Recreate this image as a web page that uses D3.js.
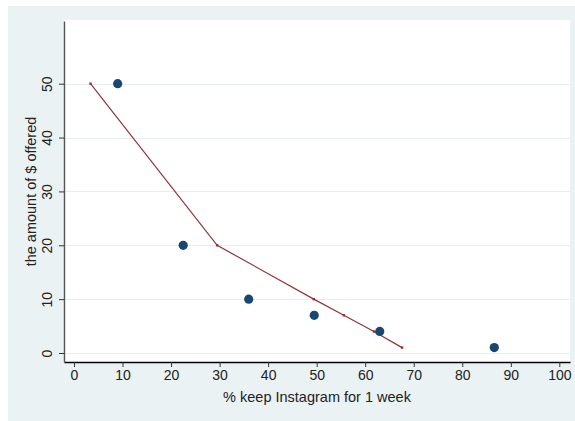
<!DOCTYPE html>
<html>
<head>
<meta charset="utf-8">
<script src="https://cdn.jsdelivr.net/npm/d3@7"></script>
<style>
  html, body { margin: 0; background: #fff; overflow: hidden; }
  svg { display: block; font-family: "Liberation Sans", Arial, sans-serif; }
</style>
</head>
<body>
<svg id="chart" width="575" height="421"></svg>
<script>
// observed: share keeping Instagram at each offer
const obsPct = [9.0, 22.5, 36.0, 49.5, 63.0, 86.6];
const obsAmount = [50, 20, 10, 7, 4, 1];

// fitted curve
const fitPct = [3.4, 29.5, 49.4, 55.6, 61.8, 67.6];
const fitAmount = [50, 20, 10, 7, 4, 1];

const xTicks = [0, 10, 20, 30, 40, 50, 60, 70, 80, 90, 100];
const yTicks = [0, 10, 20, 30, 40, 50];

const xTitle = "% keep Instagram for 1 week";
const yTitle = "the amount of $ offered";

const width = 575, height = 421;
const margin = { top: 21, right: 5, bottom: 59, left: 64 };
const chartWidth = width - margin.left - margin.right;
const chartHeight = height - margin.top - margin.bottom;

const svg = d3.select("#chart");

// Stata-like outer background
svg.append("rect")
  .attr("x", 8).attr("y", 6)
  .attr("width", width - 8).attr("height", height - 6)
  .attr("fill", "#EAF2F3");

const g = svg.append("g")
  .attr("transform", `translate(${margin.left},${margin.top})`);

g.append("rect")
  .attr("x", 0).attr("y", -1)
  .attr("width", chartWidth).attr("height", chartHeight + 1)
  .attr("fill", "#fff");

const x = d3.scaleLinear().domain([-2.06, 102.2]).range([0, chartWidth]);
const y = d3.scaleLinear().domain([-1.67, 61.64]).range([chartHeight, 0]);

// Gridlines
g.append("g")
  .selectAll("line")
  .data(yTicks)
  .join("line")
  .attr("x1", 0).attr("x2", chartWidth)
  .attr("y1", (d) => Math.round(y(d)) + 0.5)
  .attr("y2", (d) => Math.round(y(d)) + 0.5)
  .attr("stroke", "#E6EEEF")
  .attr("stroke-width", 1.2);

// Axes
const xAxis = g.append("g")
  .attr("transform", `translate(0,${chartHeight})`)
  .call(d3.axisBottom(x).tickValues(xTicks).tickSize(5).tickPadding(3).tickSizeOuter(0));
xAxis.select(".domain").attr("stroke", "#000").attr("stroke-width", 1.3);
xAxis.selectAll("line").attr("stroke", "#333");
xAxis.selectAll("text").attr("fill", "#222").style("font-size", "14px");

const yAxis = g.append("g")
  .call(d3.axisLeft(y).tickValues(yTicks).tickSize(5).tickSizeOuter(0));
yAxis.select(".domain").attr("stroke", "#555").attr("stroke-width", 1.4);
yAxis.selectAll("line").attr("stroke", "#333");
yAxis.selectAll("text")
  .attr("fill", "#222")
  .style("font-size", "14px")
  .attr("x", null).attr("dy", null)
  .attr("text-anchor", "middle")
  .attr("transform", "translate(-12,0) rotate(-90)");

// Axis titles
svg.append("text")
  .attr("x", margin.left + chartWidth / 2)
  .attr("y", 402)
  .attr("text-anchor", "middle")
  .attr("fill", "#222")
  .style("font-size", "14.5px")
  .text(xTitle);

svg.append("text")
  .attr("transform", `translate(36,${margin.top + chartHeight / 2}) rotate(-90)`)
  .attr("text-anchor", "middle")
  .attr("fill", "#222")
  .style("font-size", "14.5px")
  .text(yTitle);

// Fitted line
const fit = fitPct.map((p, i) => ({ pct: p, amount: fitAmount[i] }));
const lineGen = d3.line().x((d) => x(d.pct)).y((d) => y(d.amount));

g.append("path")
  .attr("d", lineGen(fit))
  .attr("fill", "none")
  .attr("stroke", "#90353B")
  .attr("stroke-width", 1.2);

g.selectAll(".fit-pt")
  .data(fit)
  .join("rect")
  .attr("class", "fit-pt")
  .attr("x", (d) => x(d.pct) - 1.2)
  .attr("y", (d) => y(d.amount) - 1.2)
  .attr("width", 2.4).attr("height", 2.4)
  .attr("fill", "#90353B");

// Observed points
const obs = obsPct.map((p, i) => ({ pct: p, amount: obsAmount[i] }));
g.selectAll(".obs")
  .data(obs)
  .join("circle")
  .attr("class", "obs")
  .attr("cx", (d) => x(d.pct))
  .attr("cy", (d) => y(d.amount))
  .attr("r", 4.6)
  .attr("fill", "#1A476F");
</script>
</body>
</html>
